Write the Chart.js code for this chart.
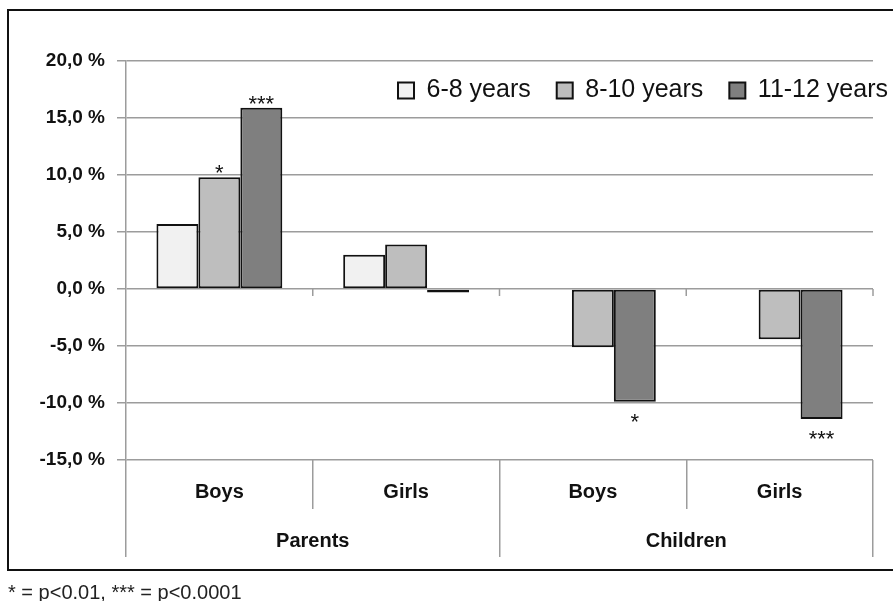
<!DOCTYPE html>
<html>
<head>
<meta charset="utf-8">
<script src="https://cdn.jsdelivr.net/npm/chart.js@4"></script>
<style>
  html, body { margin: 0; padding: 0; background: #fff; overflow: hidden; }
  #wrap { position: relative; width: 893px; height: 601px; overflow: hidden; }
  #frame { position: absolute; left: 7px; top: 9px; width: 900px; height: 558px; border: 2px solid #111; border-right: none; }
  #chart_1 { position: absolute; left: 0; top: 0; }
  #note { position: absolute; left: 8px; top: 582px; font: 20px/20px "Liberation Sans", Arial, sans-serif; color: #222; white-space: nowrap; }
</style>
</head>
<body>
<div id="wrap">
  <div id="frame"></div>
  <canvas id="chart_1" width="893" height="601"></canvas>
  <div id="note">* = p&lt;0.01, *** = p&lt;0.0001</div>
</div>
<script>
const categories = ["Boys", "Girls", "Boys", "Girls"];
const groups = ["Parents", "Children"];
const seriesNames = ["6-8 years", "8-10 years", "11-12 years"];

const age6to8 = [5.7, 3.0, null, null];
const age8to10 = [9.8, 3.9, -5.1, -4.4];
const age11to12 = [15.9, -0.3, -9.9, -11.4];

// significance marks drawn next to the bars
const marks8to10 = ["*", "", "", ""];
const marks11to12 = ["***", "", "*", "***"];

const yTicks = { min: -15, max: 20, step: 5 };

const FONT = "'Liberation Sans', Arial, sans-serif";
const GRID = "#9c9c9c";
const INK = "#111";

const ct = document.getElementById("chart_1");

const extras = {
  id: "extras",
  afterLayout(chart) {
    // legend takes no room in the layout; move its box inside the plot,
    // running a bit past the right end of the gridlines
    const lg = chart.legend;
    if (lg) {
      lg.left = chart.chartArea.left;
      lg.right = chart.chartArea.right + 41;
      lg.top = 52;
      lg.bottom = 52 + 60;
      lg.width = lg.right - lg.left;
      lg.height = 60;
    }
  },
  beforeDatasetsDraw(chart) {
    // small tick marks on the zero line at category borders
    const { ctx } = chart;
    const x = chart.scales.x;
    const y0 = chart.scales.y.getPixelForValue(0);
    ctx.save();
    ctx.strokeStyle = GRID;
    ctx.lineWidth = 1.5;
    for (let i = 1; i <= categories.length; i++) {
      const px = x.getPixelForValue(i - 0.5);
      ctx.beginPath();
      ctx.moveTo(px, y0);
      ctx.lineTo(px, y0 + 7);
      ctx.stroke();
    }
    ctx.restore();
  },
  afterDatasetsDraw(chart) {
    const { ctx } = chart;
    ctx.save();
    ctx.fillStyle = INK;
    ctx.font = "22px " + FONT;
    ctx.textAlign = "center";
    ctx.textBaseline = "alphabetic";
    [[1, marks8to10], [2, marks11to12]].forEach(([di, marks]) => {
      const meta = chart.getDatasetMeta(di);
      const values = chart.data.datasets[di].data;
      marks.forEach((m, i) => {
        if (!m) return;
        const bar = meta.data[i];
        const y = values[i] >= 0 ? bar.y + 3 : bar.y + 27;
        ctx.fillText(m, bar.x, y);
      });
    });
    ctx.restore();
  },
};

const barStyle = {
  borderColor: INK,
  borderWidth: 2,
  borderSkipped: false,
  barPercentage: 1.0,
  categoryPercentage: 0.674,
};

const config = {
  type: "bar",
  data: {
    labels: categories,
    datasets: [
      { label: seriesNames[0], data: age6to8, backgroundColor: "#f1f1f1", ...barStyle },
      { label: seriesNames[1], data: age8to10, backgroundColor: "#bebebe", ...barStyle },
      { label: seriesNames[2], data: age11to12, backgroundColor: "#7f7f7f", ...barStyle },
    ],
  },
  options: {
    responsive: false,
    animation: false,
    layout: { padding: { left: 0, top: 60, right: 20, bottom: 44 } },
    plugins: {
      tooltip: { enabled: false },
      legend: {
        position: "top",
        align: "end",
        maxHeight: 1,
        labels: {
          boxWidth: 16,
          boxHeight: 16,
          padding: 26,
          color: INK,
          font: { size: 25, family: FONT },
        },
      },
    },
    scales: {
      y: {
        min: yTicks.min,
        max: yTicks.max,
        afterFit: (s) => { s.width = 126; },
        ticks: {
          stepSize: yTicks.step,
          padding: 12,
          color: INK,
          font: { size: 19, weight: "bold", family: FONT },
          callback: (v) => v.toFixed(1).replace(".", ",") + " %",
        },
        grid: { color: GRID, lineWidth: 1.5, tickLength: 9 },
        border: { color: GRID, width: 1.5 },
      },
      x: {
        weight: 0,
        afterFit: (s) => { s.height = 49; },
        ticks: {
          padding: -29,
          color: INK,
          maxRotation: 0,
          font: { size: 20, weight: "bold", family: FONT },
        },
        grid: { offset: true, drawOnChartArea: false, color: GRID, lineWidth: 1.5, tickLength: 49 },
        border: { display: false },
      },
      x2: {
        type: "category",
        labels: groups,
        position: "bottom",
        offset: true,
        weight: 1,
        afterFit: (s) => { s.height = 48; },
        ticks: {
          padding: -28,
          color: INK,
          maxRotation: 0,
          font: { size: 20, weight: "bold", family: FONT },
        },
        grid: { offset: true, drawOnChartArea: false, color: GRID, lineWidth: 1.5, tickLength: 48 },
        border: { display: false },
      },
    },
  },
  plugins: [extras],
};

new Chart(ct, config);
</script>
</body>
</html>
